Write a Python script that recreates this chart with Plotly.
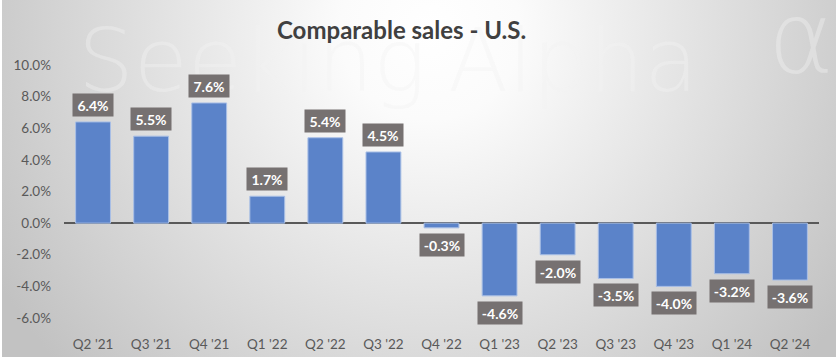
import base64
import plotly.graph_objects as go

categories = ["Q2 '21", "Q3 '21", "Q4 '21", "Q1 '22", "Q2 '22", "Q3 '22", "Q4 '22",
              "Q1 '23", "Q2 '23", "Q3 '23", "Q4 '23", "Q1 '24", "Q2 '24"]
comp_sales = [6.4, 5.5, 7.6, 1.7, 5.4, 4.5, -0.3, -4.6, -2.0, -3.5, -4.0, -3.2, -3.6]
y_ticks = [-6, -4, -2, 0, 2, 4, 6, 8, 10]
y_tick_labels = [f"{t:.1f}%" for t in y_ticks]
title_text = "Comparable sales - U.S."

W, H = 836, 360
L, R, T, B = 64, 17, 65, 42
pw, ph = W - L - R, H - T - B


def px_x(p):
    return (p - L) / pw


def px_y(p):
    return (H - B - p) / ph


svg = f'''<svg xmlns="http://www.w3.org/2000/svg" width="{W}" height="357" viewBox="0 0 {W} 357">
<defs><radialGradient id="g" gradientUnits="userSpaceOnUse" cx="430" cy="30" r="500">
<stop offset="0" stop-color="#ffffff"/><stop offset="0.18" stop-color="#fbfbfb"/>
<stop offset="1" stop-color="#c2c2c2"/></radialGradient></defs>
<rect x="2" y="0" width="{W-2}" height="357" fill="url(#g)"/></svg>'''
src = "data:image/svg+xml;base64," + base64.b64encode(svg.encode()).decode()

fig = go.Figure()
fig.add_trace(go.Bar(
    x=categories, y=comp_sales,
    marker=dict(color="#5B83C9", line=dict(color="#A9BFE6", width=1)),
    hoverinfo="skip",
))

annotations = []
wm_color = "rgba(242,242,242,0.4)"
wm_font = dict(family="DejaVu Sans", size=88, color=wm_color, weight=200)
annotations.append(dict(text="Seeking", xref="paper", yref="paper",
                        x=px_x(76), y=px_y(114), xanchor="left", yanchor="bottom",
                        showarrow=False, font=wm_font))
annotations.append(dict(text="Alpha", xref="paper", yref="paper",
                        x=px_x(446), y=px_y(114), xanchor="left", yanchor="bottom",
                        showarrow=False, font=wm_font))
annotations.append(dict(text="α", xref="paper", yref="paper",
                        x=px_x(766), y=px_y(-22), xanchor="left", yanchor="top",
                        showarrow=False, font=dict(family="DejaVu Sans", size=100, color=wm_color, weight=200)))
annotations.append(dict(text=f"<b>{title_text}</b>", xref="paper", yref="paper",
                        x=px_x(401), y=px_y(30), xanchor="center", yanchor="middle",
                        showarrow=False, font=dict(family="Lato", size=24, color="#404040")))

for c, v in zip(categories, comp_sales):
    annotations.append(dict(
        x=c, y=v, text=f"<b>{v:.1f}%</b>", showarrow=False,
        yanchor="bottom" if v >= 0 else "top",
        yshift=5 if v >= 0 else -5,
        bgcolor="#767171", borderpad=2.5,
        width=35 if v >= 0 else 39,
        font=dict(family="Lato", size=14, color="white"),
    ))

fig.update_layout(
    width=W, height=H,
    margin=dict(l=L, r=R, t=T, b=B, autoexpand=False),
    paper_bgcolor="white", plot_bgcolor="rgba(0,0,0,0)",
    bargap=0.4, showlegend=False,
    images=[dict(source=src, xref="paper", yref="paper", x=-L / pw, y=(H - B) / ph,
                 sizex=W / pw, sizey=357 / ph, xanchor="left", yanchor="top",
                 sizing="stretch", layer="below")],
    annotations=annotations,
    font=dict(family="Lato", color="#595959"),
)
fig.update_xaxes(showgrid=False, showline=False, ticks="", ticklabelstandoff=16, automargin=False,
                 tickfont=dict(family="Lato", size=13.5, color="#595959"), fixedrange=True)
fig.update_yaxes(range=[-6, 10], tickvals=y_ticks, ticktext=y_tick_labels, automargin=False,
                 showgrid=False, zeroline=True, zerolinecolor="#595959", zerolinewidth=2,
                 ticks="", ticklabelstandoff=12, showline=False,
                 tickfont=dict(family="Lato", size=13.5, color="#595959"), fixedrange=True)

fig.write_html("out.html", config={"displayModeBar": False},
               post_script="document.body.style.margin='0';document.body.style.overflow='hidden';")
